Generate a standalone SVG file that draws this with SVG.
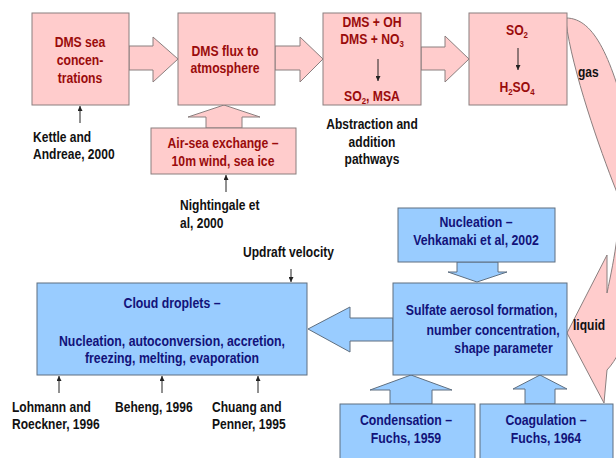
<svg xmlns="http://www.w3.org/2000/svg" width="616" height="458" viewBox="0 0 616 458">
<defs>
<style>
.pk{fill:#FFCCCC;stroke:#8a7f7f;stroke-width:1}
.bl{fill:#99CCFF;stroke:#5f6f80;stroke-width:1}
.ln{stroke:#222;stroke-width:1;fill:none;marker-end:url(#ah)}
text{font-family:"Liberation Sans",Arial,sans-serif;font-weight:bold}
.r{font-size:14px;fill:#9a0b0b;text-anchor:middle}
.k{font-size:14px;fill:#111}
.km{font-size:14px;fill:#111;text-anchor:middle}
.b{font-size:15px;fill:#12127a;text-anchor:middle}
.sub{font-size:9px}
</style>
<marker id="ah" viewBox="0 0 6 6" refX="6" refY="3" markerWidth="5" markerHeight="5" orient="auto" markerUnits="userSpaceOnUse">
<path d="M0,0 L6,3 L0,6 Z" fill="#222"/>
</marker>
</defs>
<rect width="616" height="458" fill="#fff"/>
<g id="connectors">
<path class="pk" d="M129,46 L153,46 L153,37 L178,59 L153,82 L153,70 L129,70 Z"/>
<path class="pk" d="M275,46 L300,46 L300,37 L323,59 L300,82 L300,70 L275,70 Z"/>
<path class="pk" d="M421,47 L445,47 L445,36 L469,59 L445,82 L445,70 L421,70 Z"/>
<path class="pk" d="M206,128 L206,117 L188,117 L224,105 L260,117 L242,117 L242,128 Z"/>
<path class="pk" d="M566,18 C595,18 612,60 630,130 C648,200 645,330 607,370 L604,403 L567,333 L607,255 L607,293 C614,260 624,210 616,190 C600,150 572,70 566,22 Z"/>
<path class="bl" d="M457,262 L457,272 L448,272 L477,282 L507,272 L498,272 L498,262 Z"/>
<path class="bl" d="M393,318 L350,318 L350,307 L308,329 L350,352 L350,341 L393,341 Z"/>
<path class="bl" d="M390,404 L390,390 L370,390 L411,375 L452,390 L432,390 L432,404 Z"/>
<path class="bl" d="M525,404 L525,389 L513,389 L540,375 L567,389 L555,389 L555,404 Z"/>
<line class="ln" x1="80" y1="123" x2="80" y2="106"/>
<line class="ln" x1="226" y1="192" x2="226" y2="175"/>
<line class="ln" x1="291" y1="269" x2="291" y2="282"/>
<line class="ln" x1="59" y1="393" x2="59" y2="376"/>
<line class="ln" x1="162" y1="393" x2="162" y2="376"/>
<line class="ln" x1="258" y1="393" x2="258" y2="376"/>
<text class="k" transform="translate(578 77) scale(0.86 1)">gas</text>
<text class="k" transform="translate(573 330) scale(0.86 1)">liquid</text>
</g>
<g id="dms-sea">
<rect class="pk" x="32" y="13" width="97" height="92"/>
<text class="r" transform="translate(80 47) scale(0.87 1)">DMS sea</text>
<text class="r" transform="translate(80 65) scale(0.87 1)">concen-</text>
<text class="r" transform="translate(80 83) scale(0.87 1)">trations</text>
</g>
<g id="dms-flux">
<rect class="pk" x="178" y="13" width="97" height="92"/>
<text class="r" transform="translate(225 56) scale(0.87 1)">DMS flux to</text>
<text class="r" transform="translate(225 73) scale(0.87 1)">atmosphere</text>
</g>
<g id="oxidation">
<rect class="pk" x="323" y="13" width="98" height="92"/>
<text class="r" transform="translate(372 27) scale(0.87 1)">DMS + OH</text>
<text class="r" transform="translate(372 44) scale(0.87 1)">DMS + NO<tspan class="sub" dy="3">3</tspan></text>
<line class="ln" x1="378" y1="59" x2="378" y2="81"/>
<text class="r" transform="translate(372 101) scale(0.87 1)">SO<tspan class="sub" dy="3">2</tspan><tspan dy="-3">, MSA</tspan></text>
</g>
<g id="so2">
<rect class="pk" x="469" y="13" width="98" height="92"/>
<text class="r" transform="translate(517 35) scale(0.87 1)">SO<tspan class="sub" dy="3">2</tspan></text>
<line class="ln" x1="518" y1="48" x2="518" y2="70"/>
<text class="r" transform="translate(517 92) scale(0.87 1)">H<tspan class="sub" dy="3">2</tspan><tspan dy="-3">SO</tspan><tspan class="sub" dy="3">4</tspan></text>
</g>
<g id="air-sea">
<rect class="pk" x="151" y="128" width="145" height="46"/>
<text class="r" transform="translate(223 148) scale(0.87 1)">Air-sea exchange –</text>
<text class="r" transform="translate(223 166) scale(0.87 1)">10m wind, sea ice</text>
</g>
<g id="labels">
<text class="k" transform="translate(33 142) scale(0.86 1)">Kettle and</text>
<text class="k" transform="translate(33 159) scale(0.86 1)">Andreae, 2000</text>
<text class="km" transform="translate(372 129) scale(0.86 1)">Abstraction and</text>
<text class="km" transform="translate(372 147) scale(0.86 1)">addition</text>
<text class="km" transform="translate(372 164) scale(0.86 1)">pathways</text>
<text class="k" transform="translate(180 210) scale(0.86 1)">Nightingale et</text>
<text class="k" transform="translate(180 228) scale(0.86 1)">al, 2000</text>
<text class="k" transform="translate(243 257) scale(0.86 1)">Updraft velocity</text>
<text class="k" transform="translate(12 412) scale(0.86 1)">Lohmann and</text>
<text class="k" transform="translate(12 429) scale(0.86 1)">Roeckner, 1996</text>
<text class="k" transform="translate(115 412) scale(0.86 1)">Beheng, 1996</text>
<text class="k" transform="translate(212 412) scale(0.86 1)">Chuang and</text>
<text class="k" transform="translate(212 429) scale(0.86 1)">Penner, 1995</text>
</g>
<g id="cloud">
<rect class="bl" x="37" y="283" width="270" height="92"/>
<text class="b" transform="translate(172 308) scale(0.82 1)">Cloud droplets –</text>
<text class="b" transform="translate(172 346) scale(0.82 1)">Nucleation, autoconversion, accretion,</text>
<text class="b" transform="translate(172 363) scale(0.82 1)">freezing, melting, evaporation</text>
</g>
<g id="nucleation">
<rect class="bl" x="398" y="208" width="157" height="54"/>
<text class="b" transform="translate(476 227) scale(0.82 1)">Nucleation –</text>
<text class="b" transform="translate(476 245) scale(0.82 1)">Vehkamaki et al, 2002</text>
</g>
<g id="sulfate">
<rect class="bl" x="393" y="283" width="174" height="92"/>
<text class="b" transform="translate(481.5 315) scale(0.82 1)">Sulfate aerosol  formation,</text>
<text class="b" transform="translate(493 335) scale(0.82 1)">number concentration,</text>
<text class="b" transform="translate(503.5 353) scale(0.82 1)">shape parameter</text>
</g>
<g id="condensation">
<rect class="bl" x="340" y="404" width="135" height="70"/>
<text class="b" transform="translate(406 425) scale(0.82 1)">Condensation –</text>
<text class="b" transform="translate(406 443) scale(0.82 1)">Fuchs, 1959</text>
</g>
<g id="coagulation">
<rect class="bl" x="480" y="404" width="133" height="70"/>
<text class="b" transform="translate(546 425) scale(0.82 1)">Coagulation –</text>
<text class="b" transform="translate(546 443) scale(0.82 1)">Fuchs, 1964</text>
</g>
</svg>
